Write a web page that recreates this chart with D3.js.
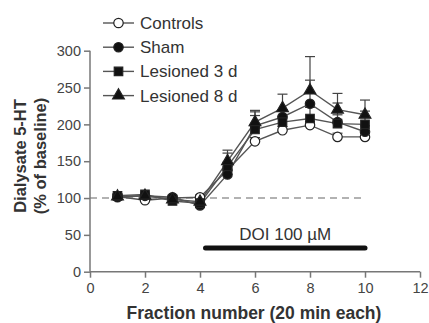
<!DOCTYPE html>
<html>
<head>
<meta charset="utf-8">
<script src="https://cdn.jsdelivr.net/npm/d3@7"></script>
<style>
  body { margin: 0; background: #fff; }
  svg { display: block; font-family: "Liberation Sans", Arial, sans-serif; }
  .axis path, .axis line { stroke: #777; stroke-width: 1.5; }
  .axis text { fill: #444; font-size: 14.5px; font-family: "Liberation Sans", Arial, sans-serif; }
</style>
</head>
<body>
<div id="chart"></div>
<script>
// data
const fractions = [1, 2, 3, 4, 5, 6, 7, 8, 9, 10];
const controls = [102, 97, 100, 101, 138, 177, 192, 199, 183, 183];
const sham = [101, 103, 101, 90, 132, 198, 210, 228, 203, 190];
const lesioned3 = [103, 105, 96, 93, 143, 193, 203, 208, 201, 200];
const lesioned8 = [102, 103, 98, 95, 150, 203, 222, 246, 220, 213];
// upward SEM bars
const controlsErr = [3, 3, 3, 3, 5, 5, 5, 5, 5, 5];
const shamErr = [3, 3, 3, 3, 10, 19, 10, 32, 10, 8];
const lesioned3Err = [3, 3, 3, 3, 18, 19, 8, 15, 28, 18];
const lesioned8Err = [3, 3, 3, 3, 15, 16, 19, 46, 22, 20];
const seriesNames = ["Controls", "Sham", "Lesioned 3 d", "Lesioned 8 d"];
const xTicks = [0, 2, 4, 6, 8, 10, 12];
const yTicks = [0, 50, 100, 150, 200, 250, 300];
const baseline = 100;
const doiStart = 4.2, doiEnd = 10;
const doiLabel = "DOI 100 µM";

const w = 429, h = 323;

const series = [
  { name: seriesNames[0], vals: controls, err: controlsErr, shape: "circle", fill: "#fff" },
  { name: seriesNames[1], vals: sham, err: shamErr, shape: "circle", fill: "#111" },
  { name: seriesNames[2], vals: lesioned3, err: lesioned3Err, shape: "square", fill: "#111" },
  { name: seriesNames[3], vals: lesioned8, err: lesioned8Err, shape: "triangle", fill: "#111" }
];

let xScale = d3.scaleLinear().domain([0, 12]).range([90, 420]);
let yScale = d3.scaleLinear().domain([0, 300]).range([271.7, 50.7]);

let svg = d3.select("#chart")
  .append("svg")
  .attr("width", w)
  .attr("height", h);

// symbol generator
function sym(shape) {
  if (shape === "square") return d3.symbol(d3.symbolSquare, 72)();
  if (shape === "triangle") return d3.symbol(d3.symbolTriangle, 60)();
  return d3.symbol(d3.symbolCircle, 70)();
}

// baseline dashed
svg.append("line")
  .attr("x1", xScale(0)).attr("x2", xScale(10))
  .attr("y1", yScale(baseline)).attr("y2", yScale(baseline))
  .attr("stroke", "#999").attr("stroke-width", 1.5)
  .attr("stroke-dasharray", "7,5");

// axes
let xAxis = d3.axisBottom(xScale).tickValues(xTicks).tickSize(6).tickPadding(5);
let yAxis = d3.axisLeft(yScale).tickValues(yTicks).tickSize(6).tickPadding(3);

svg.append("g")
  .attr("class", "axis")
  .attr("transform", "translate(0," + yScale(0) + ")")
  .call(xAxis)
  .call(g => g.select(".domain").attr("d", "M" + xScale(0) + ",0H" + xScale(12)));

svg.append("g")
  .attr("class", "axis")
  .attr("transform", "translate(" + xScale(0) + ",0)")
  .call(yAxis)
  .call(g => g.select(".domain").attr("d", "M0," + yScale(0) + "V" + yScale(300)));

// error bars
series.forEach(s => {
  let g = svg.append("g");
  fractions.forEach((f, i) => {
    let x = xScale(f), y0 = yScale(s.vals[i]), y1 = yScale(s.vals[i] + s.err[i]);
    g.append("line").attr("x1", x).attr("x2", x).attr("y1", y0).attr("y2", y1)
      .attr("stroke", "#444").attr("stroke-width", 1.2);
    g.append("line").attr("x1", x - 5).attr("x2", x + 5).attr("y1", y1).attr("y2", y1)
      .attr("stroke", "#444").attr("stroke-width", 1.2);
  });
});

// lines
let line = d3.line()
  .x((d, i) => xScale(fractions[i]))
  .y(d => yScale(d));

series.forEach(s => {
  svg.append("path")
    .datum(s.vals)
    .attr("d", line)
    .attr("fill", "none")
    .attr("stroke", "#555")
    .attr("stroke-width", 1.4);
});

// markers
series.forEach(s => {
  svg.append("g")
    .selectAll("path")
    .data(s.vals)
    .join("path")
    .attr("d", sym(s.shape))
    .attr("transform", (d, i) => "translate(" + xScale(fractions[i]) + "," + yScale(d) + ")")
    .attr("fill", s.fill)
    .attr("stroke", "#222")
    .attr("stroke-width", 1.2);
});

// DOI bar
svg.append("line")
  .attr("x1", xScale(doiStart)).attr("x2", xScale(doiEnd))
  .attr("y1", 248).attr("y2", 248)
  .attr("stroke", "#111").attr("stroke-width", 5)
  .attr("stroke-linecap", "round");
svg.append("text")
  .attr("x", (xScale(doiStart) + xScale(doiEnd)) / 2)
  .attr("y", 240)
  .attr("text-anchor", "middle")
  .attr("font-size", "17px")
  .attr("fill", "#333")
  .text(doiLabel);

// legend
let legend = svg.append("g");
series.forEach((s, i) => {
  let y = 23 + i * 24.2;
  legend.append("line")
    .attr("x1", 103).attr("x2", 134).attr("y1", y).attr("y2", y)
    .attr("stroke", "#555").attr("stroke-width", 1.4);
  legend.append("path")
    .attr("d", sym(s.shape))
    .attr("transform", "translate(118.5," + y + ")")
    .attr("fill", s.fill)
    .attr("stroke", "#222")
    .attr("stroke-width", 1.2);
  legend.append("text")
    .attr("x", 140).attr("y", y + 6)
    .attr("font-size", "17px")
    .attr("fill", "#333")
    .text(s.name);
});

// axis titles
svg.append("text")
  .attr("transform", "translate(26,156) rotate(-90)")
  .attr("text-anchor", "middle")
  .attr("font-size", "16.5px")
  .attr("font-weight", "bold")
  .attr("fill", "#333")
  .text("Dialysate 5-HT");
svg.append("text")
  .attr("transform", "translate(46,156) rotate(-90)")
  .attr("text-anchor", "middle")
  .attr("font-size", "16.5px")
  .attr("font-weight", "bold")
  .attr("fill", "#333")
  .text("(% of baseline)");

svg.append("text")
  .attr("x", 254).attr("y", 319)
  .attr("text-anchor", "middle")
  .attr("font-size", "17.5px")
  .attr("font-weight", "bold")
  .attr("fill", "#333")
  .text("Fraction number (20 min each)");
</script>
</body>
</html>
